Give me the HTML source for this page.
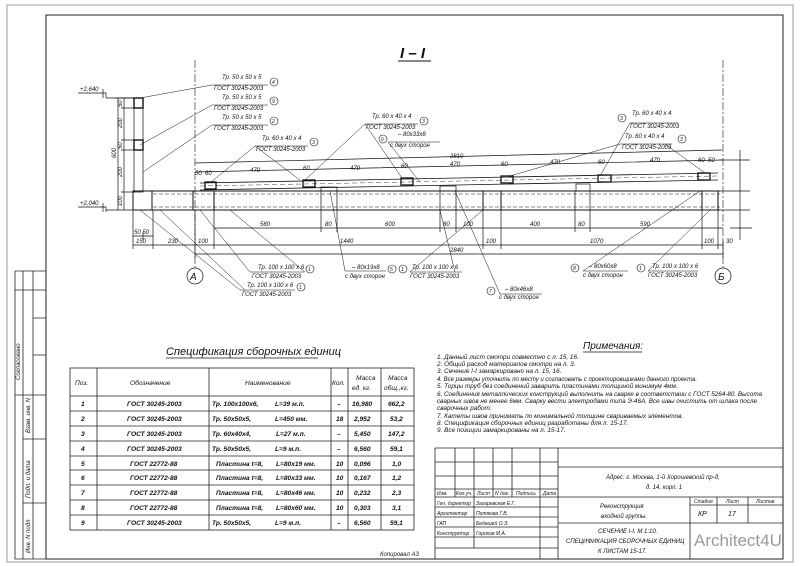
<!DOCTYPE html>
<html><head><meta charset="utf-8"><style>
html,body{margin:0;padding:0;background:#fff;}
svg{display:block;}
text{font-family:"Liberation Sans","DejaVu Sans",sans-serif;font-style:italic;fill:#111;}
.s{font-size:6px;}
.t{font-size:6.6px;}
.n{font-size:6.4px;}
</style></head><body>
<svg width="800" height="566" viewBox="0 0 800 566" xmlns="http://www.w3.org/2000/svg">
<rect width="800" height="566" fill="#fff"/>
<rect x="7" y="5" width="786" height="557" fill="none" stroke="#bbb" stroke-width="1.5"/>
<rect x="46" y="15" width="737" height="544" fill="none" stroke="#222" stroke-width="1"/>
<g stroke="#222" stroke-width="0.8" fill="none">
<path d="M15 271 H46 M15 271 V559 H46 M23 271 V395 M33 271 V559 M23 395 V559 M15 290 H46 M33 318 H46 M33 355 H46 M15 395 H46 M23 439 H46 M23 503 H46"/>
</g>
<text class="s" transform="translate(20,380) rotate(-90)">Согласовано</text>
<text class="s" transform="translate(30,433) rotate(-90)">Взам. инв. N</text>
<text class="s" transform="translate(30,498) rotate(-90)">Подп. и дата</text>
<text class="s" transform="translate(30,553) rotate(-90)">Инв. N подл.</text>

<text x="400" y="58" style="font-size:15px;font-weight:bold">I – I</text>
<line x1="398" y1="61" x2="431" y2="61" stroke="#111" stroke-width="1"/>

<g stroke="#111" stroke-width="0.7" fill="none">
<path d="M78 93 H106 V98 M103 89 V98 M106 98 H135"/>
<path d="M78 207 H106 V212 M103 203 V212 M106 210 H133"/>
<path d="M118 98 V210 M124 98 V210 M115 98 H135 M121 108 H135 M121 140 H135 M121 150 H135 M121 192 H135"/>
<rect x="134" y="98" width="9" height="94"/>
<rect x="134" y="98" width="9" height="10" stroke-width="1.4"/>
<rect x="134" y="140" width="9" height="10" stroke-width="1.4"/>
<path d="M133 191 H720 M133 210 H720" stroke-width="0.9"/>
<path d="M153 194 H720 M153 207 H720" stroke-dasharray="4 2" stroke-width="0.5"/>
<rect x="133" y="191" width="19" height="19" stroke-width="1"/>
<rect x="193" y="191" width="21" height="19" stroke-width="1"/>
<rect x="483" y="191" width="18" height="19" stroke-width="1"/>
<rect x="702" y="191" width="16" height="19" stroke-width="1"/>
<path d="M200 183 L718 173 M200 190 L718 180" stroke-width="0.8"/>
<path d="M200 186 L718 176" stroke-dasharray="5 3" stroke-width="0.4"/>
<rect x="205" y="182" width="11" height="7" stroke-width="1.3"/>
<rect x="303" y="180" width="12" height="7" stroke-width="1.3"/>
<rect x="401" y="178" width="12" height="7" stroke-width="1.3"/>
<rect x="501" y="176" width="12" height="7" stroke-width="1.3"/>
<rect x="598" y="175" width="13" height="7" stroke-width="1.3"/>
<rect x="698" y="173" width="12" height="7" stroke-width="1.3"/>
<rect x="321" y="187" width="16" height="4"/><rect x="440" y="186" width="16" height="5"/><rect x="576" y="184" width="14" height="7"/>
<path d="M195 163 L722 150 M195 172 L722 160"/>
<path d="M195 60 V268 M723 60 V268" stroke-dasharray="8 2 2 2" stroke-width="0.6"/>
<circle cx="195" cy="276" r="8"/><circle cx="723" cy="276" r="8"/>
<path d="M720 160 H750 M720 191 H750 M720 210 H750 M730 228 H752 M740 150 V240"/>
<path d="M214 228 H723 M133 236 H153 M133 245 H723 M195 254 H723"/>
<path d="M133 210 V249 M153 210 V249 M143 232 V240 M195 210 V258 M214 210 V249 M321 191 V232 M337 191 V232 M440 191 V232 M456 191 V232 M483 210 V249 M501 210 V249 M575 191 V232 M590 191 V232 M702 210 V249 M718 210 V249 M723 240 V258"/>
</g>
<g>
<text class="s" x="80" y="91">+2,640</text>
<text class="s" x="80" y="205">+2,040</text>
<text class="s" transform="translate(116,158) rotate(-90)">600</text>
<text class="s" transform="translate(122,107) rotate(-90)">50</text>
<text class="s" transform="translate(122,128) rotate(-90)">200</text>
<text class="s" transform="translate(122,149) rotate(-90)">50</text>
<text class="s" transform="translate(122,177) rotate(-90)">200</text>
<text class="s" transform="translate(122,206) rotate(-90)">100</text>
<text class="s" x="195" y="175">50</text><text class="s" x="205" y="175">60</text>
<text class="s" x="250" y="172">470</text><text class="s" x="303" y="170">60</text>
<text class="s" x="350" y="170">470</text><text class="s" x="401" y="168">60</text>
<text class="s" x="450" y="158">2810</text>
<text class="s" x="450" y="166">470</text><text class="s" x="501" y="166">60</text>
<text class="s" x="550" y="164">470</text><text class="s" x="598" y="164">60</text>
<text class="s" x="650" y="162">470</text><text class="s" x="698" y="162">60</text><text class="s" x="708" y="162">50</text>
<text class="s" x="260" y="226">580</text><text class="s" x="325" y="226">80</text>
<text class="s" x="385" y="226">600</text><text class="s" x="443" y="226">80</text><text class="s" x="463" y="226">100</text>
<text class="s" x="530" y="226">400</text><text class="s" x="578" y="226">80</text><text class="s" x="640" y="226">590</text>
<text class="s" x="134" y="234">50 50</text>
<text class="s" x="136" y="243">150</text><text class="s" x="168" y="243">230</text><text class="s" x="198" y="243">100</text>
<text class="s" x="340" y="243">1440</text><text class="s" x="486" y="243">100</text>
<text class="s" x="590" y="243">1070</text><text class="s" x="704" y="243">100</text><text class="s" x="726" y="243">30</text>
<text class="s" x="450" y="252">2840</text>
<text x="190" y="280" style="font-size:10px">А</text>
<text x="718" y="280" style="font-size:10px">Б</text>
</g>

<g stroke="#111" stroke-width="0.5" fill="none">
<path d="M140 98 L212 85 H268 M140 145 L212 105 H268 M143 172 L212 125 H268"/>
<path d="M210 183 L255 146 H308 M300 180 L255 146 M305 180 L365 124 H418 M402 178 L365 124"/>
<path d="M420 182 L388 142 H440"/>
<path d="M600 176 L630 123 H678 M510 176 L620 144 H672 M705 173 L665 144"/>
<path d="M200 210 L250 272 H304 M230 210 L305 272 M140 210 L240 290 H295 M160 210 L245 290"/>
<path d="M330 191 L345 271 H386"/>
<path d="M483 210 L410 272 H462 M440 210 L455 272"/>
<path d="M455 191 L500 294 H542"/>
<path d="M700 191 L583 271 H628"/>
<path d="M710 210 L648 271 H698"/>
</g>
<g fill="#fff" stroke="#111" stroke-width="0.6">
<circle cx="274" cy="82" r="4"/><circle cx="274" cy="101" r="4"/><circle cx="274" cy="121" r="4"/>
<circle cx="314" cy="142" r="4"/><circle cx="424" cy="121" r="4"/><circle cx="383" cy="139" r="4"/>
<circle cx="622" cy="118" r="4"/><circle cx="682" cy="139" r="4"/>
<circle cx="310" cy="269" r="4"/><circle cx="301" cy="287" r="4"/><circle cx="392" cy="269" r="4"/>
<circle cx="403" cy="269" r="4"/><circle cx="491" cy="291" r="4"/><circle cx="575" cy="268" r="4"/><circle cx="641" cy="268" r="4"/>
</g>
<g>
<text class="s" x="272" y="84" style="font-size:5px">4</text><text class="s" x="272" y="103" style="font-size:5px">9</text><text class="s" x="272" y="123" style="font-size:5px">2</text>
<text class="s" x="312" y="144" style="font-size:5px">3</text><text class="s" x="422" y="123" style="font-size:5px">3</text><text class="s" x="381" y="141" style="font-size:5px">6</text>
<text class="s" x="620" y="120" style="font-size:5px">3</text><text class="s" x="680" y="141" style="font-size:5px">3</text>
<text class="s" x="308" y="271" style="font-size:5px">1</text><text class="s" x="299" y="289" style="font-size:5px">1</text><text class="s" x="390" y="271" style="font-size:5px">5</text>
<text class="s" x="401" y="271" style="font-size:5px">1</text><text class="s" x="489" y="293" style="font-size:5px">7</text><text class="s" x="573" y="270" style="font-size:5px">8</text><text class="s" x="639" y="270" style="font-size:5px">1</text>
<text class="s" x="222" y="79">Тр. 50 x 50 x 5</text><text class="s" x="214" y="90">ГОСТ 30245-2003</text>
<text class="s" x="222" y="99">Тр. 50 x 50 x 5</text><text class="s" x="214" y="110">ГОСТ 30245-2003</text>
<text class="s" x="222" y="119">Тр. 50 x 50 x 5</text><text class="s" x="214" y="130">ГОСТ 30245-2003</text>
<text class="s" x="262" y="140">Тр. 60 x 40 x 4</text><text class="s" x="256" y="151">ГОСТ 30245-2003</text>
<text class="s" x="372" y="118">Тр. 60 x 40 x 4</text><text class="s" x="366" y="129">ГОСТ 30245-2003</text>
<text class="s" x="398" y="136">– 80x33x8</text><text class="s" x="390" y="147">с двух сторон</text>
<text class="s" x="632" y="115">Тр. 60 x 40 x 4</text><text class="s" x="630" y="128">ГОСТ 30245-2003</text>
<text class="s" x="625" y="138">Тр. 60 x 40 x 4</text><text class="s" x="622" y="149">ГОСТ 30245-2003</text>
<text class="s" x="258" y="269">Тр. 100 x 100 x 6</text><text class="s" x="252" y="278">ГОСТ 30245-2003</text>
<text class="s" x="247" y="287">Тр. 100 x 100 x 6</text><text class="s" x="242" y="296">ГОСТ 30245-2003</text>
<text class="s" x="352" y="269">– 80x19x8</text><text class="s" x="345" y="278">с двух сторон</text>
<text class="s" x="412" y="269">Тр. 100 x 100 x 6</text><text class="s" x="410" y="278">ГОСТ 30245-2003</text>
<text class="s" x="505" y="291">– 80x46x8</text><text class="s" x="499" y="299">с двух сторон</text>
<text class="s" x="589" y="268">– 80x60x8</text><text class="s" x="583" y="277">с двух сторон</text>
<text class="s" x="652" y="268">Тр. 100 x 100 x 6</text><text class="s" x="648" y="277">ГОСТ 30245-2003</text>
</g>

<text x="166" y="355" style="font-size:11px">Спецификация сборочных единиц</text>
<line x1="166" y1="358" x2="318" y2="358" stroke="#111" stroke-width="0.8"/>
<g stroke="#222" stroke-width="0.8" fill="none">
<rect x="70" y="368" width="344" height="162"/>
<path d="M97 368 V530 M209 368 V530 M331 368 V530 M348 368 V530 M381 368 V530"/>
<path d="M70 396 H414 M70 411 H414 M70 426 H414 M70 441 H414 M70 456 H414 M70 470 H414 M70 485 H414 M70 500 H414 M70 515 H414"/>
</g>
<g>
<text class="t" x="75" y="385">Поз.</text><text class="t" x="130" y="385">Обозначение</text>
<text class="t" x="245" y="385">Наименование</text><text class="t" x="332" y="385">Кол.</text>
<text class="t" x="356" y="380">Масса</text><text class="t" x="352" y="390">ед. кг.</text>
<text class="t" x="388" y="380">Масса</text><text class="t" x="384" y="390">общ.,кг.</text>
</g>
<g style="font-weight:bold">
<text class="t" x="81" y="406">1</text><text class="t" x="127" y="406">ГОСТ 30245-2003</text><text class="t" x="212" y="406">Тр. 100x100x6,</text><text class="t" x="275" y="406">L=39 м.п.</text><text class="t" x="337" y="406">–</text><text class="t" x="352" y="406">16,980</text><text class="t" x="388" y="406">662,2</text>
<text class="t" x="81" y="421">2</text><text class="t" x="127" y="421">ГОСТ 30245-2003</text><text class="t" x="212" y="421">Тр. 50x50x5,</text><text class="t" x="275" y="421">L=450 мм.</text><text class="t" x="336" y="421">18</text><text class="t" x="354" y="421">2,952</text><text class="t" x="390" y="421">53,2</text>
<text class="t" x="81" y="436">3</text><text class="t" x="127" y="436">ГОСТ 30245-2003</text><text class="t" x="212" y="436">Тр. 60x40x4,</text><text class="t" x="276" y="436">L=27 м.п.</text><text class="t" x="337" y="436">–</text><text class="t" x="354" y="436">5,450</text><text class="t" x="388" y="436">147,2</text>
<text class="t" x="81" y="451">4</text><text class="t" x="127" y="451">ГОСТ 30245-2003</text><text class="t" x="212" y="451">Тр. 50x50x5,</text><text class="t" x="275" y="451">L=9 м.п.</text><text class="t" x="337" y="451">–</text><text class="t" x="354" y="451">6,560</text><text class="t" x="390" y="451">59,1</text>
<text class="t" x="81" y="466">5</text><text class="t" x="130" y="466">ГОСТ 22772-88</text><text class="t" x="216" y="466">Пластина t=8,</text><text class="t" x="276" y="466">L=80x19 мм.</text><text class="t" x="336" y="466">10</text><text class="t" x="354" y="466">0,096</text><text class="t" x="392" y="466">1,0</text>
<text class="t" x="81" y="480">6</text><text class="t" x="130" y="480">ГОСТ 22772-88</text><text class="t" x="216" y="480">Пластина t=8,</text><text class="t" x="276" y="480">L=80x33 мм.</text><text class="t" x="336" y="480">10</text><text class="t" x="354" y="480">0,167</text><text class="t" x="392" y="480">1,2</text>
<text class="t" x="81" y="495">7</text><text class="t" x="130" y="495">ГОСТ 22772-88</text><text class="t" x="216" y="495">Пластина t=8,</text><text class="t" x="276" y="495">L=80x46 мм.</text><text class="t" x="336" y="495">10</text><text class="t" x="354" y="495">0,232</text><text class="t" x="392" y="495">2,3</text>
<text class="t" x="81" y="510">8</text><text class="t" x="130" y="510">ГОСТ 22772-88</text><text class="t" x="216" y="510">Пластина t=8,</text><text class="t" x="276" y="510">L=80x60 мм.</text><text class="t" x="336" y="510">10</text><text class="t" x="354" y="510">0,303</text><text class="t" x="392" y="510">3,1</text>
<text class="t" x="81" y="525">9</text><text class="t" x="127" y="525">ГОСТ 30245-2003</text><text class="t" x="212" y="525">Тр. 50x50x5,</text><text class="t" x="275" y="525">L=9 м.п.</text><text class="t" x="337" y="525">–</text><text class="t" x="354" y="525">6,560</text><text class="t" x="390" y="525">59,1</text>
</g>
<text class="s" x="380" y="556">Копировал А3</text>

<text x="583" y="349" style="font-size:10px">Примечания:</text>
<line x1="583" y1="352" x2="642" y2="352" stroke="#111" stroke-width="0.7"/>
<g>
<text class="n" x="437" y="359">1. Данный лист смотри совместно с л. 15, 16.</text>
<text class="n" x="437" y="366">2. Общий расход материалов смотри на л. 3.</text>
<text class="n" x="437" y="373">3. Сечение I-I замаркировано на л. 15, 16.</text>
<text class="n" x="437" y="381" textLength="260" lengthAdjust="spacingAndGlyphs">4. Все размеры уточнить по месту и согласовать с проектировщиками данного проекта.</text>
<text class="n" x="437" y="388">5. Торцы труб без соединений заварить пластинами толщиной минимум 4мм.</text>
<text class="n" x="437" y="396" textLength="325" lengthAdjust="spacingAndGlyphs">6. Соединения металлических конструкций выполнить на сварке в соответствии с ГОСТ 5264-80. Высота</text>
<text class="n" x="437" y="403" textLength="320" lengthAdjust="spacingAndGlyphs">сварных швов не менее 6мм. Сварку вести электродами типа Э-46А. Все швы очистить от шлака после</text>
<text class="n" x="437" y="410">сварочных работ.</text>
<text class="n" x="437" y="418">7. Катеты швов принимать по минимальной толщине свариваемых элементов.</text>
<text class="n" x="437" y="425">8. Спецификация сборочных единиц разработаны для л. 15-17.</text>
<text class="n" x="437" y="432">9. Все позиции замаркированы на л. 15-17.</text>
</g>

<g stroke="#222" stroke-width="0.8" fill="none">
<path d="M435 448 H783 M435 448 V559"/>
<path d="M455 448 V497 M474 448 V497 M493 448 V497 M512 448 V497 M540 448 V559 M558 448 V559"/>
<path d="M435 462 H558 M435 476 H558 M435 489 H558 M435 497 H783 M435 507 H558 M435 517 H558 M435 527 H558 M435 537 H558 M435 548 H558"/>
<path d="M474 497 V548"/>
<path d="M558 467 H783 M558 523 H690 M690 497 V559 M717 497 V523 M748 497 V523 M690 505 H783 M690 523 H783"/>
</g>
<g>
<text class="s" x="437" y="495" style="font-size:5px">Изм.</text><text class="s" x="456" y="495" style="font-size:5px">Кол.уч.</text>
<text class="s" x="477" y="495" style="font-size:5px">Лист</text><text class="s" x="495" y="495" style="font-size:5px">N док.</text>
<text class="s" x="516" y="495" style="font-size:5px">Подпись</text><text class="s" x="543" y="495" style="font-size:5px">Дата</text>
<text class="s" x="437" y="505" style="font-size:5px">Ген. директор</text><text class="s" x="476" y="505" style="font-size:5px">Захаревская Е.Г.</text>
<text class="s" x="437" y="515" style="font-size:5px">Архитектор</text><text class="s" x="476" y="515" style="font-size:5px">Полякова Г.В.</text>
<text class="s" x="437" y="525" style="font-size:5px">ГАП</text><text class="s" x="476" y="525" style="font-size:5px">Бедашей О.Э.</text>
<text class="s" x="437" y="535" style="font-size:5px">Конструктор</text><text class="s" x="476" y="535" style="font-size:5px">Горохов М.А.</text>
<text class="s" x="606" y="479">Адрес: г. Москва, 1-й Хорошевский пр-д,</text>
<text class="s" x="646" y="489">д. 14, корп. 1</text>
<text class="s" x="600" y="508">Реконструкция</text>
<text class="s" x="601" y="518">входной группы.</text>
<text class="s" x="598" y="533">СЕЧЕНИЕ I-I. М 1:10.</text>
<text class="s" x="566" y="543">СПЕЦИФИКАЦИЯ СБОРОЧНЫХ ЕДИНИЦ</text>
<text class="s" x="598" y="553">К ЛИСТАМ 15-17.</text>
<text class="s" x="694" y="503" style="font-size:5px">Стадия</text><text class="s" x="726" y="503" style="font-size:5px">Лист</text><text class="s" x="756" y="503" style="font-size:5px">Листов</text>
<text class="s" x="698" y="516" style="font-size:7px">КР</text><text class="s" x="728" y="516" style="font-size:7px">17</text>
</g>
<text x="694" y="546" style="font-size:17px;font-style:normal;fill:#9a9a9a">Architect4U</text>
</svg>
</body></html>
